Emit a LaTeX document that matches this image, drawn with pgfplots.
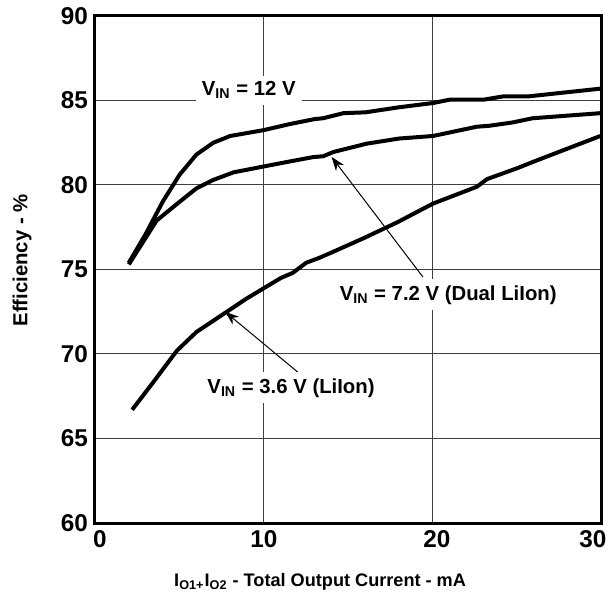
\documentclass[border=0pt]{standalone}
\usepackage{fontspec}
\setmainfont{Liberation Sans}
\usepackage{pgfplots}
\pgfplotsset{compat=1.18}
\usetikzlibrary{arrows.meta}

\tikzset{curve/.style={black, line width=2bp, line join=round}}

\begin{document}
\begin{tikzpicture}
\begin{axis}[
    scale only axis,
    width=253.5bp, height=253.5bp,
    xmin=0, xmax=30, ymin=60, ymax=90,
    xtick={0,10,20,30},
    xticklabels={\kern5bp0, 10, \kern4bp20, 30\kern9bp},
    ytick={60,65,70,75,80,85,90},
    grid=major,
    major grid style={line width=0.5bp, black!75},
    axis line style={line width=1.5bp},
    major tick length=0pt,
    /pgf/number format/assume math mode=true,
    tick label style={font=\fontsize{12.2}{14}\selectfont\bfseries},
    xlabel={I\textsubscript{O1+}I\textsubscript{O2} - Total Output Current - mA},
    ylabel={Efficiency - \%},
    xlabel style={at={(axis description cs:0.444,-0.0986)}, anchor=north,
        inner sep=0pt, font=\fontsize{9.1}{11}\selectfont\bfseries},
    ylabel style={at={(axis description cs:-0.1243,0.518)}, anchor=south,
        inner sep=0pt, font=\fontsize{10.2}{12}\selectfont\bfseries},
    clip=false,
]
% V_IN = 12 V
\addplot[curve] coordinates {
    (2,75.4) (3,77.1) (4,79.0) (5,80.6) (6,81.8) (7,82.5) (8,82.9)
    (10,83.25) (11.5,83.6) (13,83.9) (13.5,83.95) (14.7,84.25) (16,84.3)
    (18,84.6) (20,84.85) (21,85.05) (23,85.05) (24.2,85.25) (25.7,85.25)
    (29.9,85.7)
};
% V_IN = 7.2 V (Dual LiIon)
\addplot[curve] coordinates {
    (2,75.3) (3.65,77.9) (5,79.0) (6,79.8) (7,80.3) (8.2,80.75) (10,81.1)
    (11.3,81.35) (12.9,81.65) (13.5,81.7) (14.1,81.95) (16.1,82.45)
    (18,82.75) (20,82.9) (22.6,83.45) (23.3,83.5) (24.7,83.7) (25.9,83.95)
    (29.9,84.25)
};
% V_IN = 3.6 V (LiIon)
\addplot[curve] coordinates {
    (2.2,66.7) (3.5,68.4) (4.85,70.2) (6,71.3) (7.8,72.5) (9,73.3)
    (10,73.9) (11,74.5) (11.7,74.8) (12.5,75.4) (13.3,75.7) (14.1,76.05)
    (16,76.9) (17.9,77.8) (20,78.9) (22.6,79.9) (23.2,80.35) (25,81.0)
    (26,81.4) (29.9,82.9)
};

\draw[line width=0.5bp, -{Stealth[length=7bp,width=5bp]}]
    (axis cs:19.4,74.56) -- (axis cs:14.0,81.66);
\draw[line width=0.5bp, -{Stealth[length=7bp,width=5bp]}]
    (axis cs:12.2,68.76) -- (axis cs:7.7,72.5);

\begin{scope}[every node/.style={fill=white, inner sep=3bp,
    font=\fontsize{10.2}{12}\selectfont\bfseries}]
\node at (axis cs:9.1,85.6) {V\textsubscript{IN} = 12 V};
\node at (axis cs:20.9,73.5) {V\textsubscript{IN} = 7.2 V (Dual LiIon)};
\node at (axis cs:11.6,68.0) {V\textsubscript{IN} = 3.6 V (LiIon)};
\end{scope}

% page frame in the reference's proportions
\coordinate (bbsw) at (axis description cs:-0.18738,-0.15582);
\coordinate (bbne) at (axis description cs:1.0217,1.03156);
\end{axis}
\pgfresetboundingbox
\path (bbsw) rectangle (bbne);
\end{tikzpicture}
\end{document}
